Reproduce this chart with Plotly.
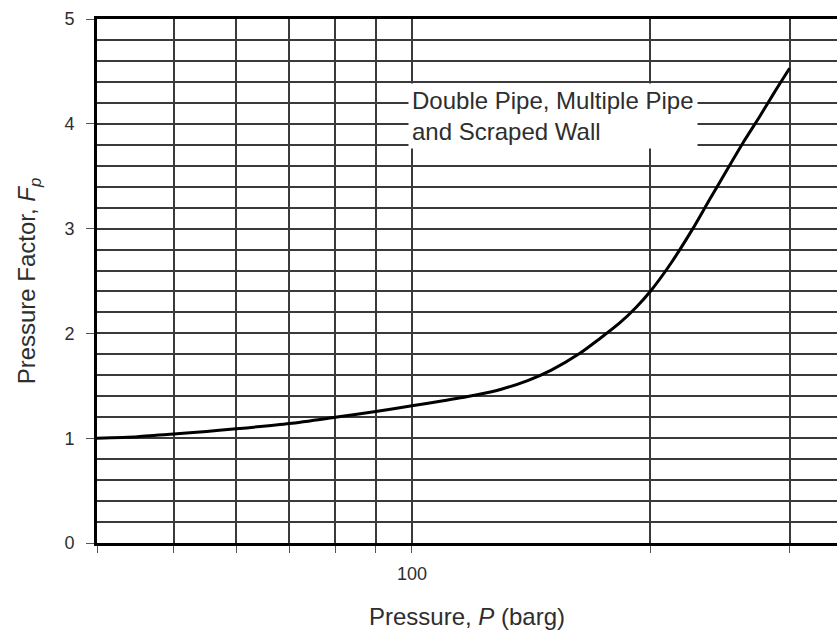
import plotly.graph_objects as go
import math

# Data
pressure = [40, 45, 50, 55, 60, 70, 80, 90, 100, 110, 120, 130, 140, 150, 163, 172,
            183, 192, 200, 212, 226, 237, 250, 262, 275, 287, 300]
factor = [1.00, 1.015, 1.04, 1.065, 1.09, 1.14, 1.20, 1.255, 1.31, 1.36, 1.41, 1.47,
          1.55, 1.65, 1.81, 1.94, 2.10, 2.25, 2.40, 2.66, 2.99, 3.26, 3.56, 3.82,
          4.07, 4.30, 4.53]

x_grid_vals = [40, 50, 60, 70, 80, 90, 100, 200, 300]
x_grid_text = ["" if v != 100 else "100" for v in x_grid_vals]
y_tick_vals = [0, 1, 2, 3, 4, 5]

FONT = "Liberation Sans, Arial, sans-serif"
GRID = "#3a3a3a"
TXT = "#2e2e2e"

fig = go.Figure()
fig.add_trace(go.Scatter(
    x=pressure, y=factor, mode="lines",
    line=dict(color="black", width=3, shape="spline", smoothing=0.7),
    showlegend=False, hoverinfo="skip",
))

fig.add_annotation(
    xref="paper", yref="paper", x=0.42, y=(4.07 / 5), xanchor="left", yanchor="middle",
    text="Double Pipe, Multiple Pipe<br>and Scraped Wall", align="left", showarrow=False,
    font=dict(family=FONT, size=24, color=TXT),
    bgcolor="white", borderpad=3,
)

fig.update_layout(
    width=837, height=634,
    margin=dict(l=97, r=0, t=19, b=91),
    paper_bgcolor="white", plot_bgcolor="white",
    font=dict(family=FONT, size=18, color=TXT),
    xaxis=dict(
        type="log",
        range=[math.log10(40), 2.537],
        tickvals=x_grid_vals, ticktext=x_grid_text,
        ticks="outside", ticklen=7, tickwidth=1, tickcolor="#555555",
        ticklabelstandoff=5,
        showgrid=True, gridcolor=GRID, gridwidth=1.5,
        showline=True, linecolor="black", linewidth=3, mirror=True,
        zeroline=False,
        title=dict(text="Pressure, <i>P</i> (barg)", font=dict(size=24, color=TXT), standoff=26),
        tickfont=dict(size=18, color=TXT),
    ),
    yaxis=dict(
        range=[0, 5],
        tickvals=y_tick_vals,
        ticks="outside", ticklen=8, tickwidth=1, tickcolor="#555555",
        ticklabelstandoff=8,
        showgrid=True, gridcolor=GRID, gridwidth=1.5,
        minor=dict(dtick=0.2, showgrid=True, gridcolor=GRID, gridwidth=1.5),
        showline=True, linecolor="black", linewidth=3, mirror=False,
        zeroline=False,
        title=dict(text="Pressure Factor, <i>F<sub>p</sub></i>", font=dict(size=24, color=TXT), standoff=22),
        tickfont=dict(size=18, color=TXT),
    ),
)

fig.write_html("out.html")
